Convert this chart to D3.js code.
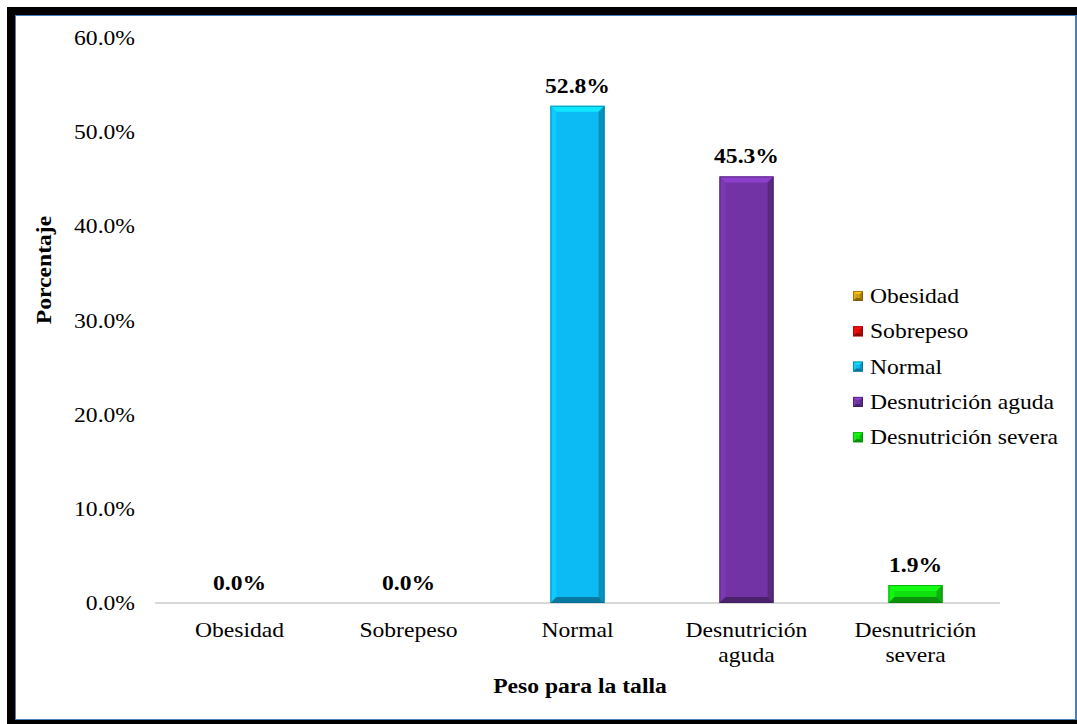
<!DOCTYPE html>
<html>
<head>
<meta charset="utf-8">
<script src="https://cdn.jsdelivr.net/npm/d3@7"></script>
<style>
  html, body { margin: 0; padding: 0; background: #fff; }
  svg { display: block; }
  text { font-family: "Liberation Serif", "Times New Roman", serif; fill: #000; }
</style>
</head>
<body>
<svg id="chart" width="1077" height="724"></svg>
<script>
// Peso para la talla: distribution by category (percent)
const categories = ["Obesidad", "Sobrepeso", "Normal", "Desnutrición aguda", "Desnutrición severa"];
const axisLabels = [["Obesidad"], ["Sobrepeso"], ["Normal"], ["Desnutrición", "aguda"], ["Desnutrición", "severa"]];
const values = [0.0, 0.0, 52.8, 45.3, 1.9];
const colors = ["#d09c0c", "#e00a0a", "#0cbaf4", "#7234a4", "#10e010"];
const yTicks = [0, 10, 20, 30, 40, 50, 60];

const svg = d3.select("#chart");
const W = 1077, H = 724;
const SX = 1.18; // horizontal stretch of the text face

// text placed at (tx,ty), stretched horizontally around its anchor
function label(parent, tx, ty, str, size, anchor, bold, extra) {
  const g = parent.append("g").attr("transform", `translate(${tx},${ty}) ${extra || ""} scale(${SX},1)`);
  const t = g.append("text").attr("text-anchor", anchor).attr("font-size", size)
    .attr("font-weight", bold ? "bold" : "normal");
  if (Array.isArray(str)) {
    str.forEach((line, k) => t.append("tspan").attr("x", 0).attr("dy", k === 0 ? 0 : 25).text(line));
  } else {
    t.text(str);
  }
  return t;
}

// outer frame: heavy black on left/top/bottom, thin blue inner line
svg.append("rect").attr("x", 0).attr("y", 0).attr("width", W).attr("height", H).attr("fill", "#fff");
svg.append("rect").attr("x", 7).attr("y", 7).attr("width", W - 7).attr("height", H - 7).attr("fill", "#000");
svg.append("rect").attr("x", 15).attr("y", 15).attr("width", W - 15).attr("height", 705).attr("fill", "#4a7ebb");
svg.append("rect").attr("x", 16).attr("y", 16).attr("width", W - 18).attr("height", 703).attr("fill", "#fff");

const x = d3.scaleBand().domain(categories).range([155, 1000]).paddingInner(0.68).paddingOuter(0.34);
const y = d3.scaleLinear().domain([0, 60]).range([603, 38]);

// y tick labels
const tickG = svg.append("g");
yTicks.forEach(d => label(tickG, 135, y(d) + 7, d.toFixed(1) + "%", 20, "end", false));

// baseline
svg.append("line").attr("x1", 155).attr("x2", 1000).attr("y1", y(0)).attr("y2", y(0))
  .attr("stroke", "#d9d9d9").attr("stroke-width", 2);

// bevelled bars
function bevel(g, bx, by, bw, bh, color, b) {
  const c = d3.color(color);
  const light = c.brighter(0.6).formatHex();
  const lighter = c.brighter(0.25).formatHex();
  const dark = c.darker(0.7).formatHex();
  const darker = c.darker(1.2).formatHex();
  g.append("rect").attr("x", bx).attr("y", by).attr("width", bw).attr("height", bh).attr("fill", color);
  const pts = a => a.map(p => p.join(",")).join(" ");
  const x0 = bx, x1 = bx + bw, y0 = by, y1 = by + bh;
  g.append("polygon").attr("points", pts([[x0, y0], [x1, y0], [x1 - b, y0 + b], [x0 + b, y0 + b]])).attr("fill", light);
  g.append("polygon").attr("points", pts([[x0, y0], [x0 + b, y0 + b], [x0 + b, y1 - b], [x0, y1]])).attr("fill", lighter);
  g.append("polygon").attr("points", pts([[x1, y0], [x1, y1], [x1 - b, y1 - b], [x1 - b, y0 + b]])).attr("fill", dark);
  g.append("polygon").attr("points", pts([[x0, y1], [x0 + b, y1 - b], [x1 - b, y1 - b], [x1, y1]])).attr("fill", darker);
  g.append("rect").attr("x", bx + 0.5).attr("y", by + 0.5).attr("width", bw - 1).attr("height", Math.max(0, bh - 1))
    .attr("fill", "none").attr("stroke", c.darker(1.6).formatHex()).attr("stroke-width", 1).attr("stroke-opacity", 0.6);
}

const bars = svg.append("g");
categories.forEach((cat, i) => {
  const v = values[i];
  if (v <= 0) return;
  const bx = x(cat), bw = x.bandwidth();
  const by = y(v), bh = y(0) - y(v);
  bevel(bars.append("g"), bx, by, bw, bh, colors[i], Math.min(6, bh / 3));
});

// value labels
const valG = svg.append("g");
categories.forEach((cat, i) => {
  label(valG, x(cat) + x.bandwidth() / 2, y(values[i]) - 13, values[i].toFixed(1) + "%", 20, "middle", true);
});

// category labels
const catG = svg.append("g");
categories.forEach((cat, i) => {
  label(catG, x(cat) + x.bandwidth() / 2, 637, axisLabels[i], 20, "middle", false);
});

// axis titles
label(svg, 51, 270, "Porcentaje", 20, "middle", true, "rotate(-90)");
label(svg, 580, 693, "Peso para la talla", 20, "middle", true);

// legend
const leg = svg.append("g");
categories.forEach((cat, i) => {
  const ly = 296 + i * 35.3;
  bevel(leg.append("g"), 853, ly - 5, 10, 10, colors[i], 3);
  label(leg, 870, ly + 7, cat, 20, "start", false);
});
</script>
</body>
</html>
